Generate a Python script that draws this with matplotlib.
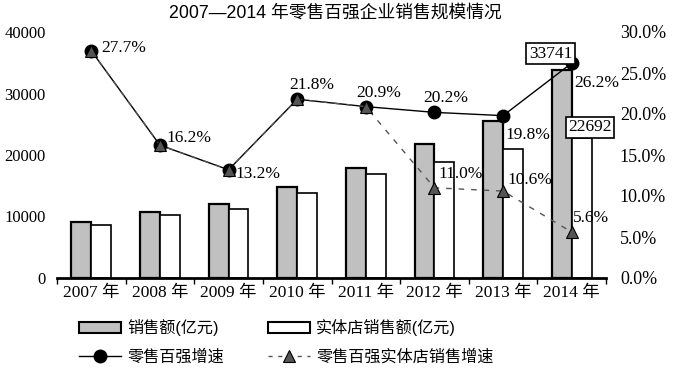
import numpy as np
import matplotlib.pyplot as plt
from matplotlib.patches import Patch
from matplotlib.lines import Line2D

years = ["2007 年", "2008 年", "2009 年", "2010 年", "2011 年", "2012 年", "2013 年", "2014 年"]
sales = [9040, 10670, 12030, 14730, 17890, 21790, 25580, 33741]
store_sales = [8550, 10180, 11220, 13820, 16960, 18860, 20980, 22692]
growth = [27.7, 16.2, 13.2, 21.8, 20.9, 20.2, 19.8, 26.2]
store_growth = [27.7, 16.2, 13.2, 21.8, 20.9, 11.0, 10.6, 5.6]

left_ticks = [0, 10000, 20000, 30000, 40000]
right_ticks = [0, 5, 10, 15, 20, 25, 30]

serif = ["Liberation Serif", "Noto Sans CJK SC"]
sans = ["Liberation Sans", "Noto Sans CJK SC"]

fig = plt.figure(figsize=(6.74, 3.72), dpi=100)
ax = fig.add_axes([57 / 674, 1 - 278 / 372, 549 / 674, 246 / 372])
ax2 = ax.twinx()

x = np.arange(len(years))
w = 0.29
ax.bar(x - w / 2, sales, w, color="#c0c0c0", edgecolor="black", linewidth=1.6, zorder=2)
ax.bar(x + w / 2, store_sales, w, color="white", edgecolor="black", linewidth=1.2, zorder=2)

ax.set_xlim(-0.5, len(years) - 0.5)
ax.set_ylim(0, 40000)
ax.set_yticks(left_ticks)
ax.set_yticklabels([str(v) for v in left_ticks], family=serif, fontsize=12)
ax.tick_params(axis="y", length=0, pad=8)
ax.set_xticks(x)
ax.set_xticklabels(years, family=serif, fontsize=12.5)
ax.set_xticks(np.arange(-0.5, len(years)), minor=True)
ax.tick_params(axis="x", which="major", length=0, pad=5)
ax.tick_params(axis="x", which="minor", length=4, width=1, direction="out")
for s in ["top", "left", "right"]:
    ax.spines[s].set_visible(False)
ax.spines["bottom"].set_linewidth(2)
ax.spines["bottom"].set_zorder(5)

ax2.plot(x, growth, color="black", linewidth=1, marker="o", markersize=9, zorder=3)
ax2.plot(x, store_growth, color="#555555", linewidth=1, linestyle=(0, (4, 5)),
         marker="^", markersize=9, markerfacecolor="#555555", markeredgecolor="black",
         markeredgewidth=0.8, zorder=4)
ax2.set_ylim(0, 30)
ax2.set_yticks(right_ticks)
ax2.set_yticklabels([f"{v:.1f}%" for v in right_ticks], family=serif, fontsize=13)
ax2.tick_params(axis="y", length=0, pad=10)
for s in ["top", "left", "right", "bottom"]:
    ax2.spines[s].set_visible(False)

# growth labels (offsets in points)
g_off = [(7, 2), (5, 5), (5, -3), (-6, 10), (-7, 10), (-8, 10), (2, -14), (2, -14)]
for i, v in enumerate(growth):
    ax2.annotate(f"{v:.1f}%", (x[i], v), xytext=g_off[i], textcoords="offset points",
                 ha="left", va="center", family=serif, fontsize=12.5, zorder=6)
s_off = [(3, 10), (3, 8), (1, 10)]
for i in range(5, len(years)):
    v = store_growth[i]
    ax2.annotate(f"{v:.1f}%", (x[i], v), xytext=s_off[i - 5], textcoords="offset points",
                 ha="left", va="center", family=serif, fontsize=12.5, zorder=6)

box = dict(boxstyle="square,pad=0.15", facecolor="white", edgecolor="black", linewidth=1.2)
ax2.annotate(str(sales[-1]), (x[-1] - w / 2, sales[-1] * 30 / 40000), xytext=(-8, 12),
             textcoords="offset points", ha="center", va="center", family=serif,
             fontsize=12.5, bbox=box, zorder=7)
ax2.annotate(str(store_sales[-1]), (x[-1] + w / 2, store_sales[-1] * 30 / 40000), xytext=(6, 8),
             textcoords="offset points", ha="center", va="center", family=serif,
             fontsize=12.5, bbox=box, zorder=7)

fig.text(335 / 674, 1 - 13 / 372, "2007—2014 年零售百强企业销售规模情况", ha="center",
         va="center", family=sans, fontsize=12.8)

handles = [
    Patch(facecolor="#c0c0c0", edgecolor="black", linewidth=1.5),
    Line2D([], [], color="black", linewidth=1, marker="o", markersize=9),
    Patch(facecolor="white", edgecolor="black", linewidth=1.5),
    Line2D([], [], color="#555555", linewidth=1, linestyle=(0, (3, 4)), marker="^",
           markersize=9, markerfacecolor="#555555", markeredgecolor="black", markeredgewidth=0.8),
]
labels = ["销售额(亿元)", "零售百强增速", "实体店销售额(亿元)", "零售百强实体店销售增速"]
fig.legend(handles, labels, loc="upper left", bbox_to_anchor=(73 / 674, 1 - 313 / 372),
           ncol=2, frameon=False, prop={"family": sans, "size": 11.6},
           handlelength=2.6, handleheight=0.7, columnspacing=2.7, labelspacing=0.8,
           handletextpad=0.4, borderaxespad=0)

fig.savefig("out.png", dpi=100)
